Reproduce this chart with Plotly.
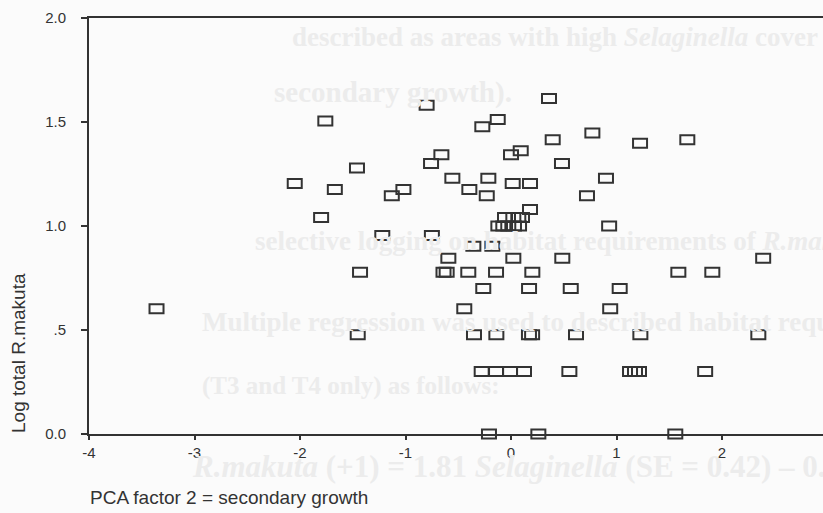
import plotly.graph_objects as go

# PCA factor 2 (x) and log total R.makuta (y)
pca_factor2 = [
    0.36, -0.80, -1.76, -0.126, -0.272, 0.771, 0.395, 1.671, 1.223, 0.092,
    0.0, -0.66, 0.483, -0.758, -1.46, -0.556, -0.215, 0.90, -2.05, 0.016,
    0.18, -1.67, -1.02, -0.395, -1.13, -0.23, 0.72, 0.18, -1.80, -0.057,
    0.022, 0.069, 0.104, 0.93, -0.12, -0.073, -0.026, 0.028, 0.076, -1.22,
    -0.75, -0.357, -0.177, -0.594, 0.022, 0.486, 2.39, -1.431, -0.64, -0.61,
    -0.405, -0.142, 0.202, 1.586, 1.908, -0.263, 0.171, 0.566, 1.03, -3.36,
    -0.443, 0.94, -1.453, -0.351, -0.139, 0.17, 0.20, 0.616, 1.226, 2.344,
    -0.278, -0.142, -0.009, 0.123, 0.553, 1.128, 1.175, 1.213, 1.84, -0.209,
    0.259, 1.557,
]
log_total_makuta = [
    1.613, 1.580, 1.505, 1.512, 1.477, 1.447, 1.415, 1.415, 1.398, 1.362,
    1.342, 1.342, 1.301, 1.301, 1.279, 1.230, 1.230, 1.230, 1.204, 1.204,
    1.204, 1.176, 1.176, 1.176, 1.146, 1.146, 1.146, 1.079, 1.041, 1.041,
    1.041, 1.041, 1.041, 1.000, 1.000, 1.000, 1.000, 1.000, 1.000, 0.954,
    0.954, 0.903, 0.903, 0.845, 0.845, 0.845, 0.845, 0.778, 0.778, 0.778,
    0.778, 0.778, 0.778, 0.778, 0.778, 0.699, 0.699, 0.699, 0.699, 0.602,
    0.602, 0.602, 0.477, 0.477, 0.477, 0.477, 0.477, 0.477, 0.477, 0.477,
    0.301, 0.301, 0.301, 0.301, 0.301, 0.301, 0.301, 0.301, 0.301, 0.0,
    0.0, 0.0,
]

x_ticks = [-4, -3, -2, -1, 0, 1, 2]
x_tick_labels = ["-4", "-3", "-2", "-1", "0", "1", "2"]
y_ticks = [0.0, 0.5, 1.0, 1.5, 2.0]
y_tick_labels = ["0.0", ".5", "1.0", "1.5", "2.0"]
X_RANGE = [-4, 2.957]
Y_RANGE = [0, 2]

x_title = "PCA factor 2 = secondary growth"
y_title = "Log total R.makuta"

# faint text of the scanned page behind the chart: (text, left px, centre y px, size)
page_text = [
    ("described as areas with high <i>Selaginella</i> cover", 290, 37, 27),
    ("secondary growth).", 272, 92, 29),
    ("selective logging on habitat requirements of <i>R.makuta</i>", 253, 241, 27),
    ("Multiple regression was used to described habitat requirements", 200, 322, 27),
    ("(T3 and T4 only) as follows:", 200, 386, 25),
    ("<i>R.makuta</i> (+1) = 1.81 <i>Selaginella</i> (SE = 0.42) \u2013 0.", 190, 466, 31),
]

W, H = 823, 513
ML, MR, MT, MB = 89, 0, 18, 79
ink = "#333333"

fig = go.Figure()
fig.add_trace(go.Scatter(
    x=pca_factor2, y=log_total_makuta, mode="markers",
    marker=dict(symbol="square-open", size=12, color="rgba(0,0,0,0)"),
    cliponaxis=False, showlegend=False,
    hovertemplate="%{x}, %{y}<extra></extra>",
))

ySpan = Y_RANGE[1] - Y_RANGE[0]
shapes = [
    dict(type="rect", xref="x", yref="paper",
         xsizemode="pixel", ysizemode="pixel",
         xanchor=xv, yanchor=(yv - Y_RANGE[0]) / ySpan,
         x0=-7, x1=7, y0=-4.5, y1=4.5,
         line=dict(color=ink, width=2), fillcolor="rgba(0,0,0,0)", layer="above")
    for xv, yv in zip(pca_factor2, log_total_makuta)
]

pw = W - ML - MR
ph = H - MT - MB
annotations = []
for txt, px, py, fs in page_text:
    annotations.append(dict(
        text="<b>" + txt + "</b>", xref="paper", yref="paper",
        x=(px - ML) / pw, y=(H - MB - py) / ph,
        xanchor="left", yanchor="middle", showarrow=False,
        font=dict(family="Liberation Serif", size=fs, color="#ececec"),
    ))
annotations.append(dict(
    text=x_title, xref="paper", yref="paper",
    x=(88 - ML) / pw, y=(H - MB - 497) / ph, xanchor="left", yanchor="middle",
    showarrow=False, font=dict(family="Liberation Sans", size=19, color=ink),
))
annotations.append(dict(
    text=y_title, xref="paper", yref="paper", textangle=-90,
    x=(18 - ML) / pw, y=(H - MB - 353) / ph, xanchor="center", yanchor="middle",
    showarrow=False, font=dict(family="Liberation Sans", size=19, color=ink),
))

fig.update_layout(
    width=W, height=H,
    margin=dict(l=ML, r=MR, t=MT, b=MB, pad=0),
    paper_bgcolor="#fbfbfb", plot_bgcolor="rgba(0,0,0,0)",
    shapes=shapes, annotations=annotations, showlegend=False,
    font=dict(family="Liberation Sans", color=ink),
    xaxis=dict(
        range=X_RANGE, tickvals=x_ticks, ticktext=x_tick_labels,
        showgrid=False, zeroline=False,
        showline=True, linecolor=ink, linewidth=2, mirror=True,
        ticks="outside", ticklen=4, tickwidth=1.5, tickcolor=ink,
        tickfont=dict(size=15, color=ink),
    ),
    yaxis=dict(
        range=Y_RANGE, tickvals=y_ticks, ticktext=y_tick_labels,
        showgrid=False, zeroline=False,
        showline=True, linecolor=ink, linewidth=2,
        ticks="outside", ticklen=6, tickwidth=1.5, tickcolor=ink,
        ticklabelstandoff=12,
        tickfont=dict(size=15, color=ink),
    ),
)

fig.write_html(
    "out.html",
    config={"displayModeBar": False},
    post_script="document.body.style.margin='0';document.body.style.overflow='hidden';",
)
